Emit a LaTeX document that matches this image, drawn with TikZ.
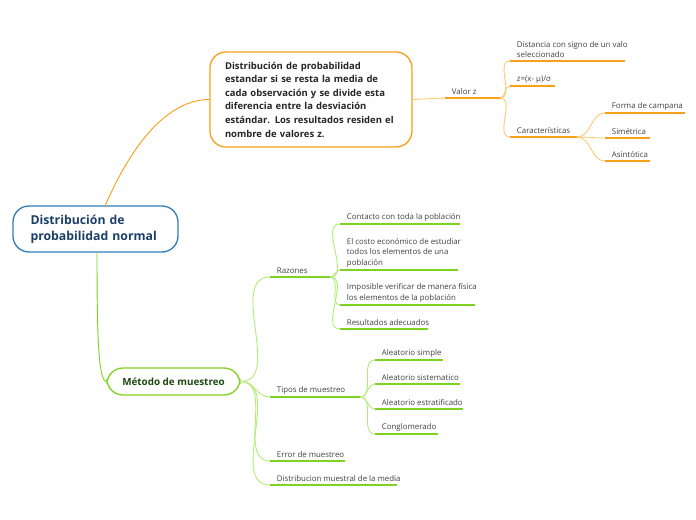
\documentclass[tikz,border=0pt]{standalone}
\usepackage{fontspec}
\setmainfont{Open Sans}
\usetikzlibrary{positioning,calc}
\definecolor{blueline}{HTML}{2F7FB8}
\definecolor{rootink}{HTML}{1B3F66}
\definecolor{orangeline}{HTML}{F7A11A}
\definecolor{orangesoft}{HTML}{FBCB78}
\definecolor{greenline}{HTML}{7ED321}
\definecolor{greensoft}{HTML}{B4EC7C}
\definecolor{greenink}{HTML}{1D4A12}

% underlined leaf: name, x start, x end, y of line, colour, text
\newcommand\leaf[6]{%
  \coordinate (#1s) at (#2,#4);
  \coordinate (#1e) at (#3,#4);
  \draw[under, #5] (#1s) -- (#1e);
  \node[leaftext, above right=0pt and 3pt of #1s] (#1) {#6};
}

\begin{document}
\begin{tikzpicture}[x=0.75pt, y=-0.75pt,
    leaftext/.style={font=\fontsize{5.9}{7.9}\selectfont, text=black!75, align=left, inner sep=2pt, anchor=south west},
    under/.style={line width=1.4pt},
    link/.style={line width=0.7pt},
    bigbox/.style={draw, rounded corners=12pt, line width=1pt, fill=white, font=\bfseries}]

        \useasboundingbox (0,0) rectangle (696,520);

        % root
        \node[bigbox, draw=blueline, text=rootink, minimum width=165*0.75pt, minimum height=46*0.75pt,
              font=\bfseries\fontsize{9.2}{12}\selectfont, align=left, text width=130*0.75pt] (root) at (95.5,229) {Distribución de\\probabilidad normal};

        % orange branch
        \node[bigbox, draw=orangeline, text=black!85, minimum width=202*0.75pt, minimum height=95*0.75pt,
              font=\bfseries\fontsize{7.1}{10.2}\selectfont, align=left, text width=172*0.75pt] (dist) at (311,99.5)
              {Distribución de probabilidad\\estandar si se resta la media de\\cada observación y se divide esta\\diferencia entre la desviación\\estándar. Los resultados residen el\\nombre de valores z.};
        \draw[link, orangeline] (105,206) .. controls (125,160) and (160,100) .. (dist.west);

        \leaf{vz}{445}{500}{98}{orangeline}{Valor z}
        \draw[link, orangesoft] (dist.east) -- (vzs);

        \leaf{dsv}{510}{625}{61}{orangeline}{Distancia con signo de un valo\\seleccionado}
        \leaf{fz}{510}{555}{86}{orangeline}{z=(x- μ)/σ}
        \leaf{car}{510}{577}{137}{orangeline}{Características}
        \foreach \c in {dsv,fz,car}
          \draw[link, orangesoft] (vze) to[out=0, in=180] (\c s);

        \leaf{fc}{605}{685}{113}{orangeline}{Forma de campana}
        \leaf{sim}{605}{650}{138}{orangeline}{Simétrica}
        \leaf{asi}{605}{650}{161}{orangeline}{Asintótica}
        \foreach \c in {fc,sim,asi}
          \draw[link, orangesoft] (care) to[out=0, in=180] (\c s);

        % green branch
        \node[bigbox, draw=greenline, text=greenink, minimum width=133*0.75pt, minimum height=27*0.75pt,
              font=\bfseries\fontsize{7.4}{10}\selectfont] (met) at (173.5,381.5) {Método de muestreo};
        \draw[link, greenline] (97,252) .. controls (97,330) and (98,381) .. (met.west);

        \leaf{raz}{270}{330}{277}{greenline}{Razones}
        \leaf{tip}{270}{360}{397}{greenline}{Tipos de muestreo}
        \leaf{err}{270}{345}{461}{greenline}{Error de muestreo}
        \leaf{dmm}{270}{397}{485}{greenline}{Distribucion muestral de la media}
        \foreach \c in {raz,tip,err,dmm}
          \draw[link, greensoft] (met.east) to[out=0, in=180] (\c s);

        \leaf{con}{340}{460}{224}{greenline}{Contacto con toda la población}
        \leaf{cos}{340}{458}{270}{greenline}{El costo económico de estudiar\\todos los elementos de una\\población}
        \leaf{imp}{340}{475}{305}{greenline}{Imposible verificar de manera física\\los elementos de la población}
        \leaf{res}{340}{428}{329}{greenline}{Resultados adecuados}
        \foreach \c in {con,cos,imp,res}
          \draw[link, greensoft] (raze) to[out=0, in=180] (\c s);

        \leaf{als}{375}{443}{360}{greenline}{Aleatorio simple}
        \leaf{ast}{375}{460}{384}{greenline}{Aleatorio sistematico}
        \leaf{aes}{375}{463}{409}{greenline}{Aleatorio estratificado}
        \leaf{cgl}{375}{438}{434}{greenline}{Conglomerado}
        \foreach \c in {als,ast,aes,cgl}
          \draw[link, greensoft] (tipe) to[out=0, in=180] (\c s);

    \end{tikzpicture}
\end{document}
